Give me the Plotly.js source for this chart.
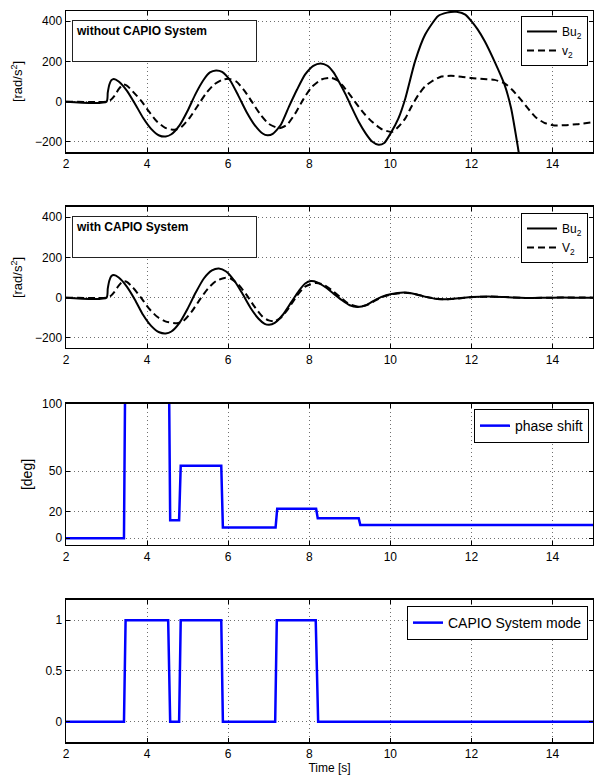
<!DOCTYPE html>
<html>
<head>
<meta charset="utf-8">
<script src="https://cdn.plot.ly/plotly-3.0.1.min.js"></script>
<style>html,body{margin:0;padding:0;background:#fff;}#chart{width:594px;height:777px;}</style>
</head>
<body>
<div id="chart"></div>
<script>
// ---- Data ----
// Panel 1: without CAPIO System
var t1Bu = [2, 3.0, 3.03, 3.07, 3.12, 3.18, 3.3, 3.5, 3.7, 3.9, 4.1, 4.3, 4.46, 4.6, 4.8, 5.0, 5.2, 5.4, 5.55, 5.7, 5.85, 6.05, 6.25, 6.45, 6.65, 6.85, 6.97, 7.1, 7.3, 7.5, 7.7, 7.9, 8.1, 8.28, 8.45, 8.6, 8.73, 8.9, 9.05, 9.22, 9.4, 9.55, 9.71, 9.85, 10.0, 10.2, 10.37, 10.61, 10.86, 11.18, 11.4, 11.63, 11.85, 12.0, 12.15, 12.33, 12.57, 12.82, 12.98, 13.14, 13.3];
var bu1 = [0, 0, 45, 85, 107, 113, 100, 55, -10, -80, -135, -168, -173, -162, -118, -45, 40, 110, 145, 155, 148, 105, 30, -50, -115, -158, -167, -160, -115, -25, 60, 135, 178, 190, 178, 145, 100, 35, -30, -100, -160, -198, -214, -205, -160, -83, 16, 200, 333, 425, 442, 446, 432, 400, 360, 300, 200, 83, -33, -217, -420];
var t1V = [2, 3.0, 3.1, 3.2, 3.3, 3.41, 3.5, 3.65, 3.85, 4.05, 4.25, 4.45, 4.68, 4.85, 5.05, 5.25, 5.45, 5.65, 5.85, 6.03, 6.2, 6.4, 6.6, 6.8, 7.0, 7.26, 7.45, 7.65, 7.85, 8.05, 8.3, 8.55, 8.7, 8.81, 9.0, 9.2, 9.38, 9.55, 9.8, 10.04, 10.2, 10.37, 10.52, 10.69, 10.85, 11.02, 11.26, 11.5, 11.75, 12.0, 12.3, 12.57, 12.82, 13.0, 13.2, 13.4, 13.6, 13.8, 14.05, 14.3, 14.6, 15.0];
var v1 = [0, 0, 8, 30, 62, 85, 80, 50, 5, -50, -100, -130, -140, -125, -80, -20, 40, 85, 108, 113, 100, 55, -5, -65, -110, -132, -115, -60, 10, 70, 110, 118, 105, 83, 35, -20, -65, -100, -138, -150, -125, -83, -25, 33, 75, 100, 125, 128, 124, 117, 112, 108, 91, 60, 15, -35, -80, -105, -118, -117, -112, -102];

// Panel 2: with CAPIO System
var t2Bu = [2, 3.0, 3.03, 3.07, 3.12, 3.18, 3.3, 3.5, 3.7, 3.9, 4.1, 4.3, 4.46, 4.6, 4.8, 5.0, 5.2, 5.4, 5.6, 5.77, 5.95, 6.15, 6.35, 6.55, 6.75, 6.9, 7.01, 7.15, 7.35, 7.55, 7.75, 7.9, 8.04, 8.2, 8.4, 8.6, 8.8, 9.0, 9.19, 9.4, 9.6, 9.8, 10.0, 10.33, 10.6, 10.85, 11.1, 11.36, 11.7, 12.0, 12.42, 12.8, 13.2, 13.5, 14.0, 14.5, 15.0];
var bu2 = [0, 0, 45, 85, 107, 112, 100, 55, -10, -85, -140, -172, -178, -168, -125, -55, 25, 95, 135, 145, 130, 85, 20, -50, -105, -130, -135, -125, -85, -25, 35, 70, 82, 76, 52, 20, -12, -38, -46, -38, -15, 5, 17, 25, 18, 5, -5, -8, -3, 3, 6, 3, -1, -2, 0, 0, 0];
var t2V = [2, 3.0, 3.1, 3.2, 3.3, 3.41, 3.5, 3.65, 3.85, 4.05, 4.25, 4.45, 4.74, 4.9, 5.1, 5.3, 5.5, 5.7, 5.91, 6.05, 6.25, 6.45, 6.65, 6.85, 7.0, 7.13, 7.3, 7.5, 7.7, 7.9, 8.16, 8.35, 8.55, 8.75, 8.95, 9.15, 9.25, 9.45, 9.65, 9.85, 10.05, 10.38, 10.65, 10.9, 11.15, 11.4, 11.75, 12.05, 12.47, 12.85, 13.25, 13.55, 14.0, 15.0];
var v2 = [0, 0, 8, 30, 60, 82, 78, 50, 0, -55, -95, -118, -127, -115, -70, -10, 45, 82, 98, 96, 65, 15, -45, -95, -113, -118, -100, -50, 10, 55, 73, 65, 38, 5, -28, -43, -45, -35, -12, 6, 17, 24, 16, 3, -6, -8, -3, 3, 5, 3, -1, -2, 0, 0];

// Panel 3: phase shift [deg]
var tPhase = [2, 3.43, 3.47, 4.53, 4.57, 4.79, 4.83, 5.83, 5.87, 7.17, 7.21, 8.17, 8.21, 9.22, 9.26, 12.6, 12.62, 13.6, 13.62, 15];
var phase = [0, 0, 160, 160, 13.5, 13.5, 54, 54, 8, 8, 22, 22, 15, 15, 9.8, 9.8, 9.3, 9.3, 9.8, 9.8];

// Panel 4: CAPIO System mode
var tMode = [2, 3.43, 3.47, 4.52, 4.57, 4.79, 4.83, 5.83, 5.87, 7.16, 7.2, 8.16, 8.22, 15];
var mode = [0, 0, 1, 1, 0, 0, 1, 1, 0, 0, 1, 1, 0, 0];

// Axis ticks
var xTicks = [2, 4, 6, 8, 10, 12, 14];
var yTicksRad = [-200, 0, 200, 400];
var yTicksDeg = [0, 20, 50, 100];
var yTicksMode = [0, 0.5, 1];

// ---- Chart ----
var FONT = 'Liberation Sans, Arial, Helvetica, sans-serif';
var dashBlack = '7px,4px';

var traces = [
  {x: t1Bu, y: bu1, type: 'scatter', mode: 'lines', name: 'Bu<sub>2</sub>', xaxis: 'x', yaxis: 'y', legend: 'legend',
   line: {color: '#000', width: 2, shape: 'spline', smoothing: 0.6}},
  {x: t1V, y: v1, type: 'scatter', mode: 'lines', name: 'v<sub>2</sub>', xaxis: 'x', yaxis: 'y', legend: 'legend',
   line: {color: '#000', width: 2, dash: dashBlack, shape: 'spline', smoothing: 0.6}},
  {x: t2Bu, y: bu2, type: 'scatter', mode: 'lines', name: 'Bu<sub>2</sub>', xaxis: 'x2', yaxis: 'y2', legend: 'legend2',
   line: {color: '#000', width: 2, shape: 'spline', smoothing: 0.6}},
  {x: t2V, y: v2, type: 'scatter', mode: 'lines', name: 'V<sub>2</sub>', xaxis: 'x2', yaxis: 'y2', legend: 'legend2',
   line: {color: '#000', width: 2, dash: dashBlack, shape: 'spline', smoothing: 0.6}},
  {x: tPhase, y: phase, type: 'scatter', mode: 'lines', name: 'phase shift', xaxis: 'x3', yaxis: 'y3', legend: 'legend3',
   line: {color: '#0000ff', width: 2.5}},
  {x: tMode, y: mode, type: 'scatter', mode: 'lines', name: 'CAPIO System mode', xaxis: 'x4', yaxis: 'y4', legend: 'legend4',
   line: {color: '#0000ff', width: 2.5}}
];

function xax(anchor) {
  return {
    anchor: anchor, domain: [0, 1], range: [2, 15], tickvals: xTicks,
    showline: true, mirror: 'ticks', linecolor: '#000', linewidth: 1.5,
    ticks: 'inside', ticklen: 4, tickcolor: '#000', tickwidth: 1,
    showgrid: true, gridcolor: '#6f6f6f', griddash: '1px,3px', gridwidth: 1,
    zeroline: false, tickfont: {family: FONT, size: 12, color: '#000'}
  };
}
function yax(anchor, dom, rng, tv) {
  return {
    anchor: anchor, domain: dom, range: rng, tickvals: tv,
    showline: true, mirror: 'ticks', linecolor: '#000', linewidth: 1.5,
    ticks: 'inside', ticklen: 4, tickcolor: '#000', tickwidth: 1,
    showgrid: true, gridcolor: '#6f6f6f', griddash: '1px,3px', gridwidth: 1,
    zeroline: false, tickfont: {family: FONT, size: 12, color: '#000'}
  };
}

var layout = {
  width: 594, height: 777,
  margin: {l: 66, r: 1, t: 11, b: 35},
  paper_bgcolor: '#fff', plot_bgcolor: '#fff',
  font: {family: FONT, size: 12, color: '#000'},
  showlegend: true,
  xaxis: xax('y'), xaxis2: xax('y2'), xaxis3: xax('y3'), xaxis4: xax('y4'),
  yaxis: yax('x', [0.8071, 1.0], [-250, 450], yTicksRad),
  yaxis2: yax('x2', [0.5390, 0.7319], [-250, 450], yTicksRad),
  yaxis3: yax('x3', [0.2695, 0.4624], [-5, 100], yTicksDeg),
  yaxis4: yax('x4', [0, 0.1943], [-0.2, 1.2], yTicksMode),
  annotations: [
    {xref: 'paper', yref: 'paper', x: 0.0114, y: 0.9877, xanchor: 'left', yanchor: 'top',
     text: '<b>without CAPIO System</b>', showarrow: false, align: 'left', valign: 'top',
     width: 177, height: 34, borderpad: 3, bordercolor: '#222', borderwidth: 1, bgcolor: '#fff',
     font: {family: FONT, size: 12, color: '#000'}},
    {xref: 'paper', yref: 'paper', x: 0.0114, y: 0.7196, xanchor: 'left', yanchor: 'top',
     text: '<b>with CAPIO System</b>', showarrow: false, align: 'left', valign: 'top',
     width: 177, height: 34, borderpad: 3, bordercolor: '#222', borderwidth: 1, bgcolor: '#fff',
     font: {family: FONT, size: 12, color: '#000'}}
  ],
  legend: {x: 0.9905, y: 0.9932, xanchor: 'right', yanchor: 'top', bgcolor: '#fff', bordercolor: '#000', borderwidth: 1,
           font: {family: FONT, size: 12}, itemwidth: 30},
  legend2: {x: 0.9905, y: 0.7237, xanchor: 'right', yanchor: 'top', bgcolor: '#fff', bordercolor: '#000', borderwidth: 1,
           font: {family: FONT, size: 12}, itemwidth: 30},
  legend3: {x: 0.9924, y: 0.4555, xanchor: 'right', yanchor: 'top', bgcolor: '#fff', bordercolor: '#000', borderwidth: 1,
           font: {family: FONT, size: 14}, itemwidth: 30},
  legend4: {x: 0.9905, y: 0.1860, xanchor: 'right', yanchor: 'top', bgcolor: '#fff', bordercolor: '#000', borderwidth: 1,
           font: {family: FONT, size: 14}, itemwidth: 30}
};
layout.yaxis.title = {text: '[rad/s<sup>2</sup>]', font: {family: FONT, size: 13, color: '#000'}, standoff: 9};
layout.yaxis2.title = {text: '[rad/s<sup>2</sup>]', font: {family: FONT, size: 13, color: '#000'}, standoff: 9};
layout.yaxis3.title = {text: '[deg]', font: {family: FONT, size: 14, color: '#000'}, standoff: 6};
layout.xaxis4.title = {text: 'Time [s]', font: {family: FONT, size: 12, color: '#000'}, standoff: 3};

Plotly.newPlot('chart', traces, layout, {displayModeBar: false, staticPlot: true});
</script>
</body>
</html>
